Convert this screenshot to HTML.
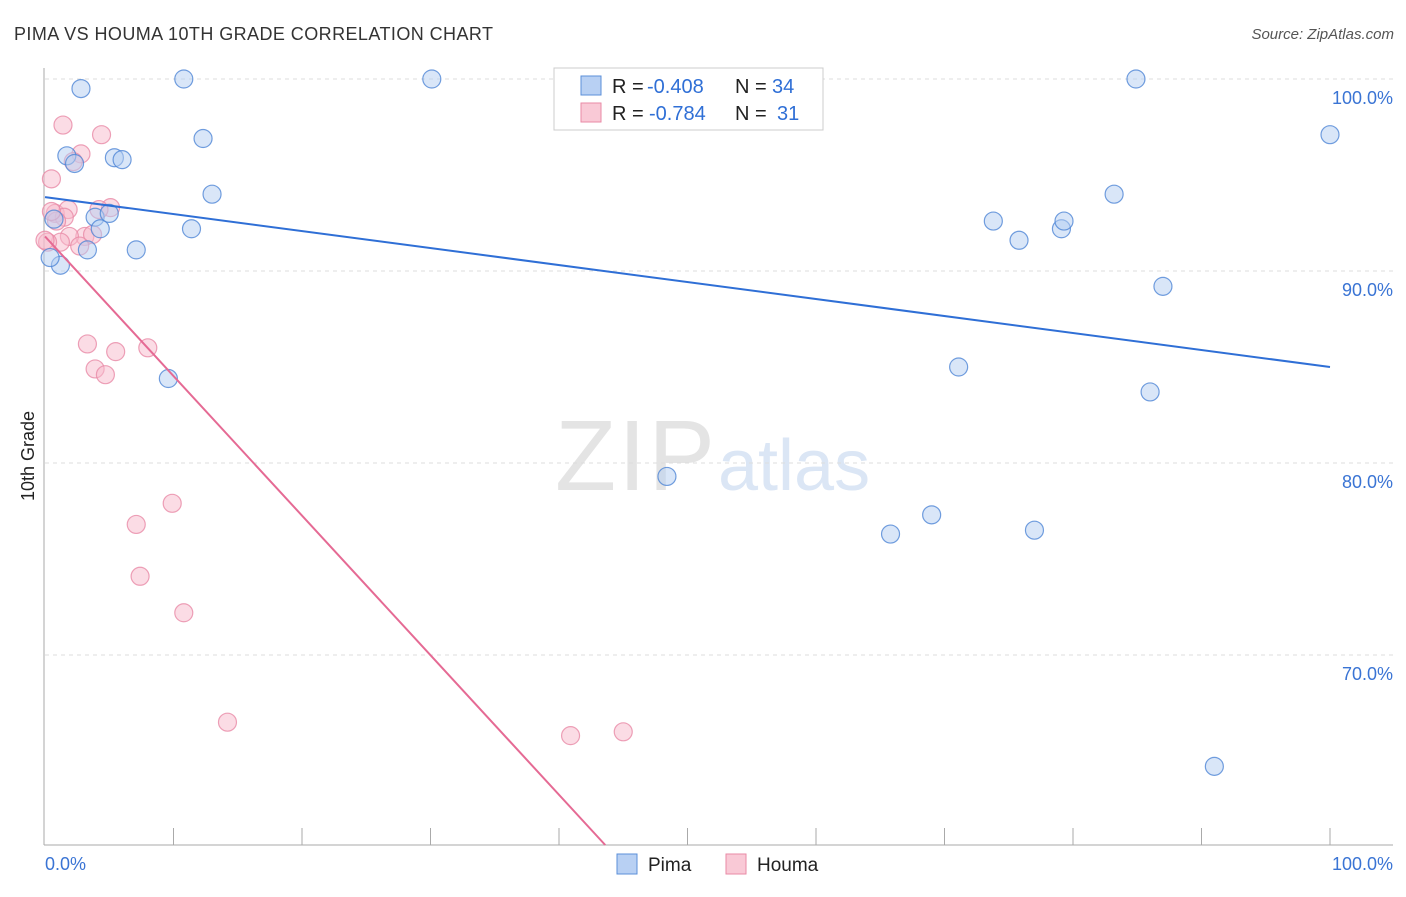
<!DOCTYPE html>
<html><head><meta charset="utf-8"><style>
body{margin:0;background:#fff;font-family:"Liberation Sans",sans-serif}
svg text{font-family:"Liberation Sans",sans-serif}
</style></head><body>
<svg id="c" width="1406" height="892">
<text x="14" y="40" font-size="18" fill="#333" textLength="479">PIMA VS HOUMA 10TH GRADE CORRELATION CHART</text>
<text x="1394" y="39" font-size="15" fill="#555" font-style="italic" text-anchor="end">Source: ZipAtlas.com</text>
<text x="555" y="490" font-size="100" fill="#e4e4e4" font-family="Liberation Serif" textLength="160">ZIP</text>
<text x="718" y="490" font-size="72" fill="#dbe6f5">atlas</text>
<text transform="translate(34,456) rotate(-90)" font-size="18" fill="#222" text-anchor="middle">10th Grade</text>
<g id="grid"></g><g id="pts"></g><g id="lines"></g>
<g>
<rect x="554" y="68" width="269" height="62" fill="#fff" stroke="#ccc"/>
<rect x="581" y="76" width="20" height="19" fill="#b8d0f3" stroke="#5b8fd8"/>
<text x="612" y="93" font-size="20" fill="#222">R =</text>
<text x="647" y="93" font-size="20" fill="#2f6fd6">-0.408</text>
<text x="735" y="93" font-size="20" fill="#222">N =</text>
<text x="772" y="93" font-size="20" fill="#2f6fd6">34</text>
<rect x="581" y="103" width="20" height="19" fill="#f9c9d6" stroke="#e98aa6"/>
<text x="612" y="120" font-size="20" fill="#222">R =</text>
<text x="649" y="120" font-size="20" fill="#2f6fd6">-0.784</text>
<text x="735" y="120" font-size="20" fill="#222">N =</text>
<text x="777" y="120" font-size="20" fill="#2f6fd6">31</text>
</g>
<g>
<rect x="617" y="854" width="20" height="20" fill="#b8d0f3" stroke="#5b8fd8"/>
<text x="648" y="871" font-size="19" fill="#222">Pima</text>
<rect x="726" y="854" width="20" height="20" fill="#f9c9d6" stroke="#e98aa6"/>
<text x="757" y="871" font-size="19" fill="#222">Houma</text>
</g>
</svg>
<script>
const yTicks=[100,90,80,70];
const yTickLabels=["100.0%","90.0%","80.0%","70.0%"];
const xTickLabels=["0.0%","100.0%"];
const pimaX=[2.8,10.8,30.1,84.9,12.3,1.7,2.3,5.4,6.0,13.0,100,3.9,4.3,5.0,0.7,3.3,7.1,1.2,0.4,11.4,73.8,75.8,79.1,79.3,83.2,87.0,9.6,71.1,86.0,48.4,65.8,69.0,77.0,91.0];
const pimaY=[99.5,100,100,100,96.9,96.0,95.6,95.9,95.8,94.0,97.1,92.8,92.2,93.0,92.7,91.1,91.1,90.3,90.7,92.2,92.6,91.6,92.2,92.6,94.0,89.2,84.4,85.0,83.7,79.3,76.3,77.3,76.5,64.2];
const houmaX=[1.4,4.4,2.8,2.2,0.5,0.8,1.8,1.5,0.9,5.1,4.2,3.1,3.7,1.9,1.2,2.7,0.2,3.3,5.5,8.0,3.9,4.7,7.1,9.9,7.4,10.8,14.2,40.9,45.0,0.5,0];
const houmaY=[97.6,97.1,96.1,95.7,94.8,93.0,93.2,92.8,92.6,93.3,93.2,91.8,91.9,91.8,91.5,91.3,91.5,86.2,85.8,86.0,84.9,84.6,76.8,77.9,74.1,72.2,66.5,65.8,66.0,93.1,91.6];
const pimaTrend=[93.85,85.0];
const houmaTrend=[91.8,19.1];
const NS='http://www.w3.org/2000/svg';
const X=v=>45+v*12.85, Y=v=>79+(100-v)*19.2, yMin=100-(845-79)/19.2;
function mk(t,a,p){const e=document.createElementNS(NS,t);for(const k in a)e.setAttribute(k,a[k]);p.appendChild(e);return e;}
const g=document.getElementById('grid');
yTicks.forEach((v,i)=>{
 const l=mk('line',{x1:45,x2:1393,y1:Y(v),y2:Y(v),stroke:'#ddd','stroke-dasharray':'4,4'},g);
 
 
 const t=mk('text',{x:1393,y:Y(v)+25,'font-size':18,fill:'#3a74d4','text-anchor':'end'},g);
 t.textContent=yTickLabels[i];
 
 
});
const ya=mk('line',{x1:44,x2:44,y1:68,y2:845,stroke:'#aaa'},g);


const xa=mk('line',{x1:44,x2:1393,y1:845,y2:845,stroke:'#aaa'},g);


for(let i=1;i<=10;i++){const tk=mk('line',{x1:X(i*10),x2:X(i*10),y1:828,y2:845,stroke:'#aaa'},g);
 
 }
[[0,'start',45],[1,'end',1393]].forEach(([i,a,x])=>{const t=mk('text',{x:x,y:870,'font-size':18,fill:'#3a74d4','text-anchor':a},g);t.textContent=xTickLabels[i];
 
 });
const p=document.getElementById('pts');
function series(xs,ys,fill,stroke,name){xs.forEach((x,i)=>{const c=mk('circle',{cx:X(x),cy:Y(ys[i]),r:9,fill:fill,'fill-opacity':0.5,stroke:stroke,'stroke-opacity':0.8,'stroke-width':1.2},p);
 
 });}
series(houmaX,houmaY,'#f7b9cb','#e98aa6','houma-point');
series(pimaX,pimaY,'#b3cdf2','#4f86d6','pima-point');
const L=document.getElementById('lines');
const bl=mk('line',{x1:X(0),y1:Y(pimaTrend[0]),x2:X(100),y2:Y(pimaTrend[1]),stroke:'#2f6fd6','stroke-width':2},L);


const xe=(houmaTrend[0]-yMin)/(houmaTrend[0]-houmaTrend[1])*100;
const pl=mk('line',{x1:X(0),y1:Y(houmaTrend[0]),x2:X(xe),y2:Y(yMin),stroke:'#e56a94','stroke-width':2},L);


</script>
</body></html>
